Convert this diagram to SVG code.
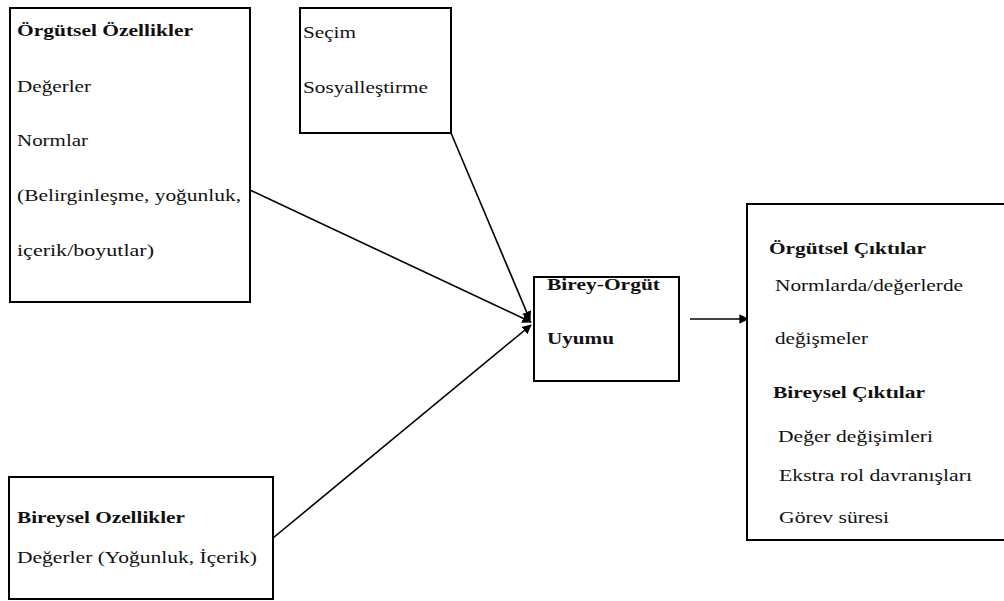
<svg xmlns="http://www.w3.org/2000/svg" width="1004" height="601" viewBox="0 0 1004 601">
<style>
.box{fill:#fff;stroke:#000;stroke-width:2}
text{font-family:'Liberation Serif','Times New Roman',serif;font-size:16.5px;fill:#111}
.b{font-weight:bold}
.ln{stroke:#000;stroke-width:1.6;fill:none}
</style>
<defs>
<marker id="ah" viewBox="0 0 10 10" refX="9" refY="5" markerWidth="6" markerHeight="6" markerUnits="strokeWidth" orient="auto">
<path d="M0,0 L10,5 L0,10 z" fill="#000"/>
</marker>
</defs>
<rect width="1004" height="601" fill="#fff"/>
<g id="connectors">
<line class="ln" x1="250" y1="190" x2="531" y2="322" marker-end="url(#ah)"/>
<line class="ln" x1="451" y1="133" x2="530" y2="320" marker-end="url(#ah)"/>
<line class="ln" x1="273" y1="538" x2="531" y2="325" marker-end="url(#ah)"/>
<line class="ln" x1="690" y1="319" x2="748" y2="319" marker-end="url(#ah)"/>
</g>
<g id="orgutsel-ozellikler">
<rect class="box" x="10" y="8" width="240" height="294"/>
<text class="b" x="17" y="36" textLength="176" lengthAdjust="spacingAndGlyphs">Örgütsel Özellikler</text>
<text x="17" y="92" textLength="74" lengthAdjust="spacingAndGlyphs">Değerler</text>
<text x="17" y="146" textLength="71" lengthAdjust="spacingAndGlyphs">Normlar</text>
<text x="17" y="201" textLength="224" lengthAdjust="spacingAndGlyphs">(Belirginleşme, yoğunluk,</text>
<text x="17" y="256" textLength="137" lengthAdjust="spacingAndGlyphs">içerik/boyutlar)</text>
</g>
<g id="secim">
<rect class="box" x="300" y="8" width="151" height="125"/>
<text x="303" y="38" textLength="53" lengthAdjust="spacingAndGlyphs">Seçim</text>
<text x="303" y="93" textLength="125" lengthAdjust="spacingAndGlyphs">Sosyalleştirme</text>
</g>
<g id="birey-orgut-uyumu">
<rect class="box" x="534" y="277" width="145" height="104"/>
<text class="b" x="547" y="290" textLength="113" lengthAdjust="spacingAndGlyphs">Birey-Örgüt</text>
<text class="b" x="547" y="344" textLength="67" lengthAdjust="spacingAndGlyphs">Uyumu</text>
</g>
<g id="ciktilar">
<rect class="box" x="747" y="204" width="270" height="336"/>
<text class="b" x="769" y="254" textLength="157" lengthAdjust="spacingAndGlyphs">Örgütsel Çıktılar</text>
<text x="775" y="291" textLength="188" lengthAdjust="spacingAndGlyphs">Normlarda/değerlerde</text>
<text x="775" y="344" textLength="93" lengthAdjust="spacingAndGlyphs">değişmeler</text>
<text class="b" x="773" y="398" textLength="152" lengthAdjust="spacingAndGlyphs">Bireysel Çıktılar</text>
<text x="778" y="442" textLength="155" lengthAdjust="spacingAndGlyphs">Değer değişimleri</text>
<text x="779" y="481" textLength="193" lengthAdjust="spacingAndGlyphs">Ekstra rol davranışları</text>
<text x="779" y="523" textLength="110" lengthAdjust="spacingAndGlyphs">Görev süresi</text>
</g>
<g id="bireysel-ozellikler">
<rect class="box" x="9" y="477" width="264" height="122"/>
<text class="b" x="17" y="523" textLength="168" lengthAdjust="spacingAndGlyphs">Bireysel Ozellikler</text>
<text x="17" y="563" textLength="240" lengthAdjust="spacingAndGlyphs">Değerler (Yoğunluk, İçerik)</text>
</g>
</svg>
